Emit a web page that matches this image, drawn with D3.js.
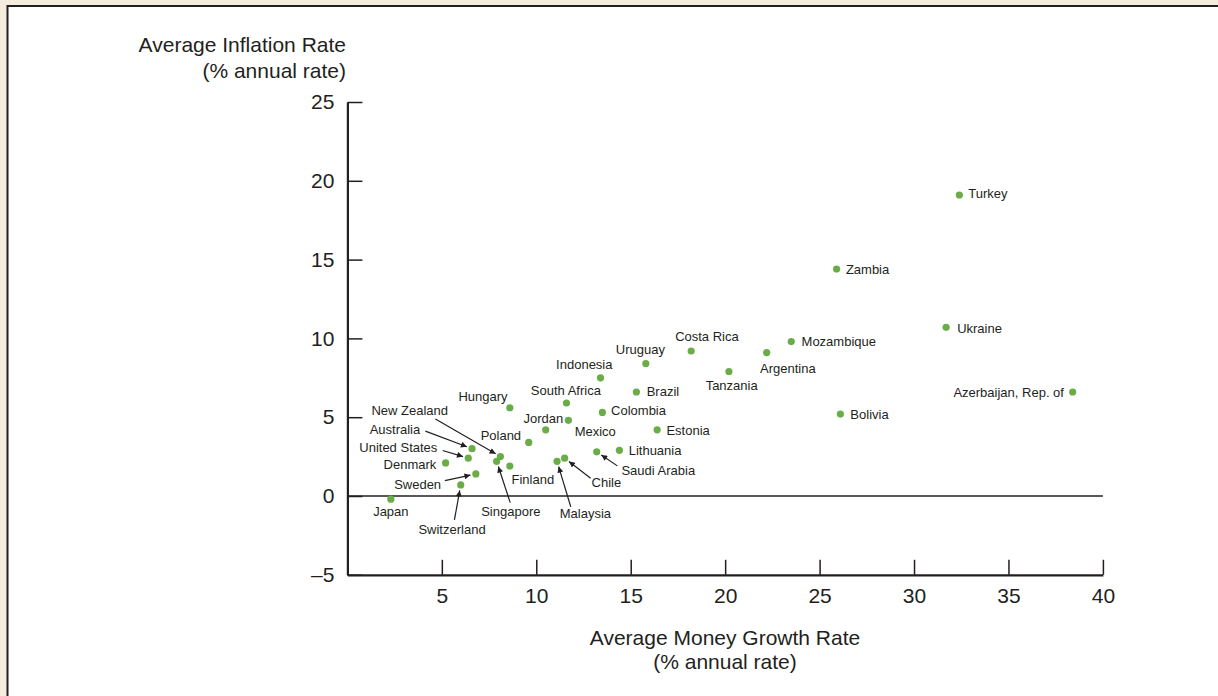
<!DOCTYPE html>
<html lang="en">
<head>
  <title>Money Growth and Inflation</title>
  <meta charset="utf-8">
  <script src="https://cdn.jsdelivr.net/npm/d3@7"></script>
  <style>
    body { margin: 0; background: #f4ecdd; }
    text { font-family: "Liberation Sans", Arial, Helvetica, sans-serif; fill: #231f20; }
  </style>
</head>
<body>
<script>
// values (average money growth vs average inflation, % per year)
var countries = ["Turkey", "Zambia", "Ukraine", "Azerbaijan, Rep. of", "Bolivia", "Mozambique",
  "Argentina", "Costa Rica", "Tanzania", "Uruguay", "Indonesia", "Brazil", "South Africa",
  "Colombia", "Estonia", "Lithuania", "Saudi Arabia", "Mexico", "Jordan", "Chile", "Malaysia",
  "Poland", "Hungary", "Finland", "New Zealand", "Singapore", "Australia", "United States",
  "Denmark", "Sweden", "Switzerland", "Japan"];
var moneyGrowth = [32.4, 25.9, 31.7, 38.4, 26.1, 23.5, 22.2, 18.2, 20.2, 15.8, 13.4, 15.3, 11.6,
  13.5, 16.4, 14.4, 13.2, 11.7, 10.5, 11.5, 11.1, 9.6, 8.6, 8.6, 8.1, 7.9, 6.6, 6.4, 5.2, 6.8, 6.0, 2.3];
var inflation = [19.1, 14.4, 10.7, 6.6, 5.2, 9.8, 9.1, 9.2, 7.9, 8.4, 7.5, 6.6, 5.9, 5.3, 4.2, 2.9,
  2.8, 4.8, 4.2, 2.4, 2.2, 3.4, 5.6, 1.9, 2.5, 2.2, 3.0, 2.4, 2.1, 1.4, 0.7, -0.2];

var xTicks = [5, 10, 15, 20, 25, 30, 35, 40];
var yTicks = [-5, 0, 5, 10, 15, 20, 25];
var yTickLabels = ["\u20135", "0", "5", "10", "15", "20", "25"];

// label placement: [anchor, dx, dy] from the dot, dy to text middle
var labelPos = {
  "Turkey": ["start", 9, -1.4], "Zambia": ["start", 9.3, 0], "Ukraine": ["start", 11, 0.6],
  "Azerbaijan, Rep. of": ["end", -8.7, 0.7], "Bolivia": ["start", 10, 0.6],
  "Mozambique": ["start", 10.3, 0], "Argentina": ["start", -6.7, 15.7],
  "Costa Rica": ["start", -16, -14.3], "Tanzania": ["start", -23.3, 14.3],
  "Uruguay": ["start", -30, -14.7], "Indonesia": ["end", 12, -13.7], "Brazil": ["start", 10.3, -0.7],
  "South Africa": ["middle", -0.6, -13], "Colombia": ["start", 8.7, -2.4],
  "Estonia": ["start", 9.3, 0.7], "Lithuania": ["start", 9.3, 0.3],
  "Saudi Arabia": ["start", 24.7, 19], "Mexico": ["start", 6.3, 10.6], "Jordan": ["end", 17.6, -11],
  "Chile": ["start", 27, 24.3], "Malaysia": ["start", 2.7, 52], "Poland": ["end", -7.6, -6.7],
  "Hungary": ["end", -2.3, -11.6], "Finland": ["start", 1.7, 13.3], "New Zealand": ["start", -129, -46.7],
  "Singapore": ["start", -15.4, 49.7], "Australia": ["start", -102.4, -19.6],
  "United States": ["start", -109, -11], "Denmark": ["end", -9.3, 1.6], "Sweden": ["start", -81.7, 10],
  "Switzerland": ["start", -42.3, 44], "Japan": ["middle", 0, 12.4]
};
// arrow tails, offset from the dot
var arrowFrom = {
  "New Zealand": [-65, -37.7], "Australia": [-46.7, -17.6], "United States": [-25.6, -7.7],
  "Sweden": [-31, 6.7], "Switzerland": [-6.3, 35], "Singapore": [13.6, 41.3],
  "Malaysia": [13.7, 45.4], "Chile": [26, 20], "Saudi Arabia": [20.7, 14]
};

var w = 1218, h = 696;
var plotLeft = 347.4, plotRight = 1102.9, plotTop = 102, plotBottom = 574.8;

var x = d3.scaleLinear().domain([0, 40]).range([plotLeft, plotRight]);
var y = d3.scaleLinear().domain([-5, 25]).range([plotBottom, plotTop]);

var svg = d3.select("body").append("svg")
  .attr("width", w)
  .attr("height", h)
  .style("display", "block");

svg.append("rect")
  .attr("width", w).attr("height", h)
  .attr("fill", "#f4ecdd");

svg.append("rect")
  .attr("x", 7.5).attr("y", 6)
  .attr("width", w + 20).attr("height", h + 20)
  .attr("fill", "#fff")
  .attr("stroke", "#231f20")
  .attr("stroke-width", 2);

svg.append("defs").append("marker")
  .attr("id", "head")
  .attr("viewBox", "0 0 10 10")
  .attr("refX", 10).attr("refY", 5)
  .attr("markerWidth", 7).attr("markerHeight", 6)
  .attr("markerUnits", "userSpaceOnUse")
  .attr("orient", "auto")
  .append("path")
  .attr("d", "M0,0L10,5L0,10z")
  .attr("fill", "#231f20");

// zero line
svg.append("line")
  .attr("x1", x(0)).attr("x2", x(40))
  .attr("y1", y(0)).attr("y2", y(0))
  .attr("stroke", "#231f20")
  .attr("stroke-width", 1.3);

var yAxis = svg.append("g")
  .attr("transform", "translate(" + plotLeft + ",0)")
  .call(d3.axisLeft(y).tickValues(yTicks)
    .tickFormat(function (d, i) { return yTickLabels[i]; })
    .tickSizeInner(-15).tickSizeOuter(0).tickPadding(13));

var xAxis = svg.append("g")
  .attr("transform", "translate(0," + plotBottom + ")")
  .call(d3.axisBottom(x).tickValues(xTicks)
    .tickSizeInner(-15).tickSizeOuter(0).tickPadding(12.8));

[xAxis, yAxis].forEach(function (g) {
  g.select(".domain").attr("stroke", "#231f20").attr("stroke-width", 2.2);
  g.selectAll(".tick line").attr("stroke", "#231f20").attr("stroke-width", 1.5);
  g.selectAll(".tick text")
    .attr("fill", "#231f20")
    .style("font-family", "'Liberation Sans', Arial, sans-serif")
    .style("font-size", "21px");
});

// axis titles
svg.append("text")
  .attr("x", 346).attr("y", 51.7)
  .attr("text-anchor", "end")
  .style("font-size", "21px")
  .text("Average Inflation Rate");
svg.append("text")
  .attr("x", 346).attr("y", 77.7)
  .attr("text-anchor", "end")
  .style("font-size", "21px")
  .text("(% annual rate)");

svg.append("text")
  .attr("x", 725).attr("y", 645)
  .attr("text-anchor", "middle")
  .style("font-size", "21px")
  .text("Average Money Growth Rate");
svg.append("text")
  .attr("x", 725).attr("y", 669)
  .attr("text-anchor", "middle")
  .style("font-size", "21px")
  .text("(% annual rate)");

var pts = countries.map(function (c, i) {
  return { name: c, mg: moneyGrowth[i], inf: inflation[i] };
});

// arrows
svg.selectAll("line.arrow")
  .data(pts.filter(function (d) { return arrowFrom[d.name]; }))
  .enter()
  .append("line")
  .attr("class", "arrow")
  .each(function (d) {
    var cx = x(d.mg), cy = y(d.inf);
    var a = arrowFrom[d.name];
    var len = Math.sqrt(a[0] * a[0] + a[1] * a[1]);
    d3.select(this)
      .attr("x1", cx + a[0]).attr("y1", cy + a[1])
      .attr("x2", cx + a[0] / len * 5.5).attr("y2", cy + a[1] / len * 5.5);
  })
  .attr("stroke", "#231f20")
  .attr("stroke-width", 1.2)
  .attr("marker-end", "url(#head)");

svg.selectAll("circle")
  .data(pts)
  .enter()
  .append("circle")
  .attr("cx", function (d) { return x(d.mg); })
  .attr("cy", function (d) { return y(d.inf); })
  .attr("r", 3.6)
  .attr("fill", "#6aad48");

svg.selectAll("text.lab")
  .data(pts)
  .enter()
  .append("text")
  .attr("class", "lab")
  .attr("text-anchor", function (d) { return labelPos[d.name][0]; })
  .attr("x", function (d) { return x(d.mg) + labelPos[d.name][1]; })
  .attr("y", function (d) { return y(d.inf) + labelPos[d.name][2] + 4.6; })
  .style("font-size", "13px")
  .text(function (d) { return d.name; });
</script>
</body>
</html>
